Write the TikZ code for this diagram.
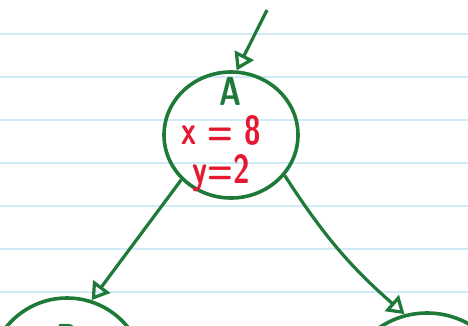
\documentclass[tikz,border=0pt]{standalone}
\usetikzlibrary{arrows.meta,shapes.geometric}
\definecolor{inkgreen}{RGB}{30,122,56}
\definecolor{inkred}{RGB}{228,24,48}
\definecolor{ruleblue}{RGB}{208,234,248}
\newcommand{\tallhand}[1]{\scalebox{1}[1.35]{#1}}
\begin{document}
\begin{tikzpicture}[x=1pt,y=-1pt,
  ring/.style={draw=inkgreen,line width=3.6pt,inner sep=0pt},
  edge/.style={draw=inkgreen,line width=3.2pt,-{Triangle[open,length=17pt,width=21pt]}},
  hand/.style={font=\sffamily\bfseries\fontsize{30}{30}\selectfont,inner sep=0pt}]
\useasboundingbox (0,0) rectangle (468,326);
\foreach \y in {34,77,...,292}
  \draw[ruleblue,line width=1.4pt] (0,\y) -- (468,\y);
\path node[ring,ellipse,minimum width=134pt,minimum height=126pt] (A) at (231,135) {}
node[ring,circle,minimum size=156pt] (B) at (67,376) {}
node[ring,circle,minimum size=170pt] (C) at (427,398) {}
node[hand,text=inkgreen] (labA) at (230,91) {\tallhand{A}}
node[hand,text=inkred] (xval) at (221,130) {\tallhand{x = 8}}
node[hand,text=inkred] (yval) at (221,173) {\tallhand{y=2}}
node[hand,text=inkgreen] (labB) at (67,338) {\tallhand{B}}
;
\coordinate (src) at (267,10);
\draw[edge] (src) -- (A.85);
\draw[edge] (A.222) -- (B.72);
\draw[edge] (A.323) to[bend right=8] (C.105);
\end{tikzpicture}
\end{document}
